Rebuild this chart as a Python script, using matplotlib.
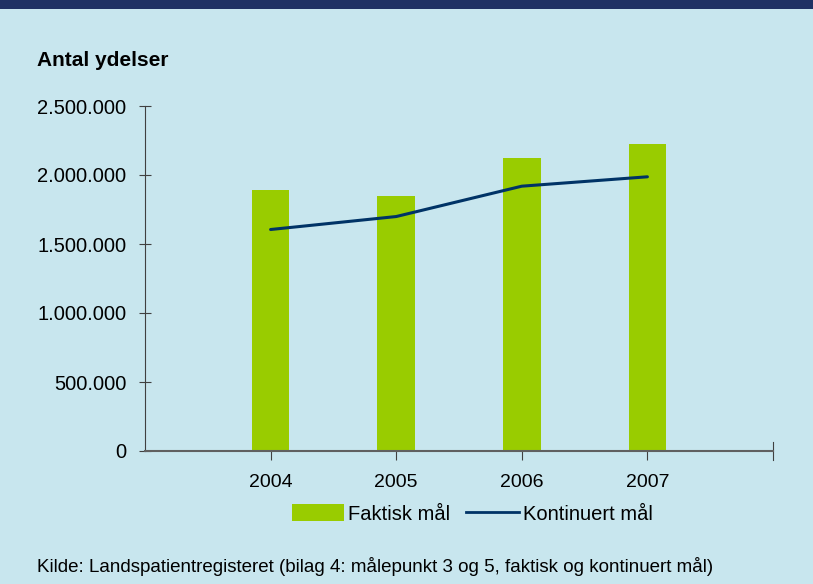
import numpy as np
import matplotlib.pyplot as plt
from matplotlib.patches import Rectangle
from matplotlib.lines import Line2D

years = ['2004', '2005', '2006', '2007']
faktisk = [1888000, 1851000, 2120000, 2222000]
kontinuert = [1605000, 1699000, 1919000, 1987000]
yticks = [0, 500000, 1000000, 1500000, 2000000, 2500000]
ylabels = ['0', '500.000', '1.000.000', '1.500.000', '2.000.000', '2.500.000']

bg = '#C8E6EE'
green = '#99CC00'
navy = '#003366'

plt.rcParams['font.family'] = ['Liberation Sans', 'DejaVu Sans']

fig = plt.figure(figsize=(8.13, 5.84), dpi=100, facecolor=bg)
W, H = 813, 584

# top band
fig.add_artist(Rectangle((0, 1 - 9 / H), 1, 9 / H, transform=fig.transFigure,
                         facecolor='#1F3264', edgecolor='none'))

ax = fig.add_axes([145 / W, 1 - 451 / H, (773 - 145) / W, (451 - 106) / H])
ax.set_facecolor(bg)

x = np.arange(1, len(years) + 1)
ax.bar(x, faktisk, width=0.3, color=green, zorder=2)
ax.plot(x, kontinuert, color=navy, lw=2.2, zorder=3, solid_capstyle='round')

ax.set_xlim(0, 5)
ax.set_ylim(0, 2500000)
ax.set_yticks(yticks)
ax.set_yticklabels(ylabels, fontsize=14.5)
ax.set_xticks(x)
ax.set_xticklabels(years, fontsize=14)

for s in ['top', 'right']:
    ax.spines[s].set_visible(False)
ax.spines['left'].set_color('#404040')
ax.spines['bottom'].set_color('#606060')
ax.spines['bottom'].set_linewidth(1.5)
ax.tick_params(axis='y', direction='inout', length=9, color='#404040', pad=9)
ax.tick_params(axis='x', direction='inout', length=13, color='#404040', pad=10)
# end tick on right of x-axis
ax.plot([5, 5], [-0.027, 0.027], transform=ax.get_xaxis_transform(),
        color='#404040', lw=0.8, clip_on=False)

fig.text(37 / W, 1 - 60 / H, 'Antal ydelser', fontsize=15, fontweight='bold',
         va='center', ha='left')

handles = [Rectangle((0, 0), 1, 1, facecolor=green),
           Line2D([0], [0], color=navy, lw=2)]
fig.legend(handles, ['Faktisk mål', 'Kontinuert mål'], loc='center',
           bbox_to_anchor=(472 / W, 1 - 514 / H), ncol=2, frameon=False,
           fontsize=14.5, handlelength=2.6, handleheight=0.9,
           handletextpad=0.2, columnspacing=0.8)

fig.text(37 / W, 1 - 567 / H,
         'Kilde: Landspatientregisteret (bilag 4: målepunkt 3 og 5, faktisk og kontinuert mål)',
         fontsize=13.5, va='center', ha='left')

fig.savefig('out.png', dpi=100, facecolor=bg)
